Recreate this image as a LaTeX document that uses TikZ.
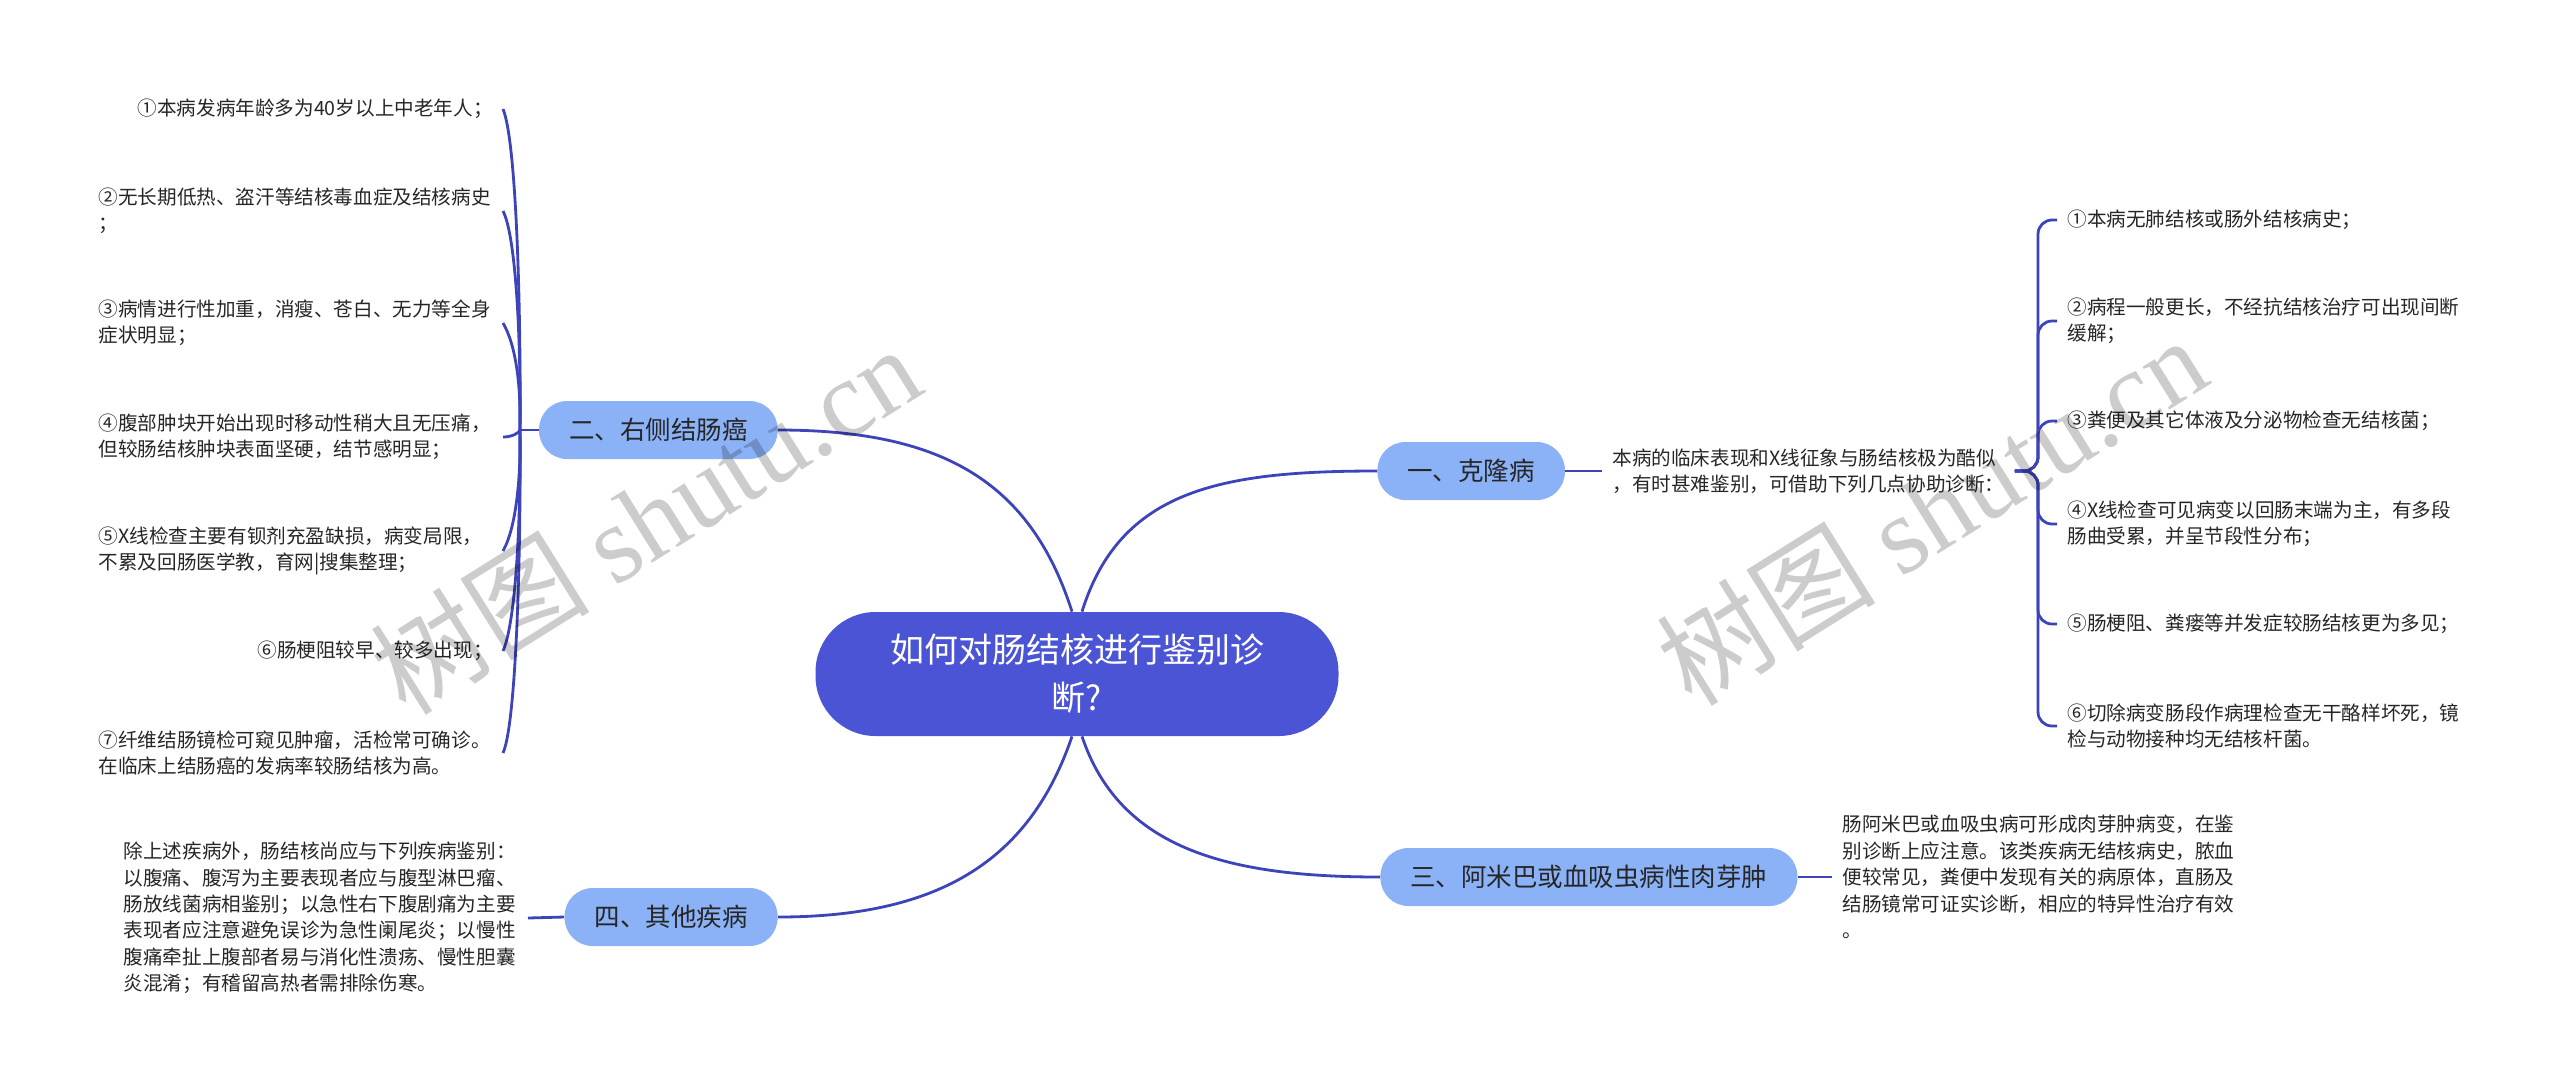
\documentclass[tikz,border=0pt]{standalone}
\usepackage{fontspec}
\setmainfont{Noto Sans CJK SC}
\newfontfamily\wmserif{Liberation Serif}
\newfontfamily\wmcjk{Noto Sans CJK SC}
\definecolor{rootblue}{HTML}{4A54D5}
\definecolor{branchblue}{HTML}{8BB2F6}
\definecolor{lineblue}{HTML}{3D43B8}
\definecolor{textdark}{HTML}{262626}
\tikzset{
  conn/.style={draw=lineblue, line width=1.4pt},
  rootbox/.style={fill=rootblue, text=white, rounded corners=30pt, minimum width=261.5pt, minimum height=62pt, align=center, font=\fontsize{17pt}{24pt}\selectfont},
  branch/.style={fill=branchblue, text=textdark, rounded corners=14pt, minimum height=29pt, inner xsep=15pt, font=\fontsize{12.75pt}{15pt}\selectfont},
  leaf/.style={text=textdark, inner xsep=5pt, inner ysep=2pt, align=left, font=\fontsize{9.8pt}{13.2pt}\selectfont},
  leafw/.style={leaf, text width=197pt},
  wm/.style={text=black, text opacity=0.2, font=\fontsize{55pt}{60pt}\selectfont},
}
\begin{document}
\begin{tikzpicture}[x=0.5pt,y=-0.5pt]
\useasboundingbox (0,0) rectangle (2560,1089);

% root and main branches
\node[rootbox] (root) at (1077,674) {如何对肠结核进行鉴别诊\\断?};
\node[branch, anchor=west] (b1) at (1377,471) {一、克隆病};
\node[branch, anchor=east] (b2) at (778,430) {二、右侧结肠癌};
\node[branch, anchor=west] (b3) at (1380,877) {三、阿米巴或血吸虫病性肉芽肿};
\node[branch, anchor=east] (b4) at (778,917) {四、其他疾病};

\draw[conn] ([xshift=-2.5pt]root.north) .. controls (1030,480) and (940,430) .. (b2.east);
\draw[conn] ([xshift=2.5pt]root.north) .. controls (1120,490) and (1220,471) .. (b1.west);
\draw[conn] ([xshift=-2.5pt]root.south) .. controls (1030,860) and (940,917) .. (b4.east);
\draw[conn] ([xshift=2.5pt]root.south) .. controls (1120,850) and (1230,877) .. (b3.west);

% branch 1: Crohn
\node[leaf, anchor=west] (d1) at (1602,471) {本病的临床表现和X线征象与肠结核极为酷似\\，有时甚难鉴别，可借助下列几点协助诊断：};
\draw[conn] (b1.east) -- (d1.west);
\coordinate (jr) at (2038,472);
\node[leaf, anchor=west] (r1) at (2057,220) {①本病无肺结核或肠外结核病史；};
\node[leafw, anchor=west] (r2) at (2057,321) {②病程一般更长，不经抗结核治疗可出现间断\\缓解；};
\node[leaf, anchor=west] (r3) at (2057,421) {③粪便及其它体液及分泌物检查无结核菌；};
\node[leafw, anchor=west] (r4) at (2057,524) {④X线检查可见病变以回肠末端为主，有多段\\肠曲受累，并呈节段性分布；};
\node[leaf, anchor=west] (r5) at (2057,624) {⑤肠梗阻、粪瘘等并发症较肠结核更为多见；};
\node[leafw, anchor=west] (r6) at (2057,726) {⑥切除病变肠段作病理检查无干酪样坏死，镜\\检与动物接种均无结核杆菌。};
\foreach \n in {r1,r2,r3,r4,r5,r6}
  \draw[conn, rounded corners=7pt] (d1.east) -- (d1.east -| jr) |- (\n.west);

% branch 2: right colon cancer
\coordinate (jl) at (520,430);
\draw[conn] (b2.west) -- (jl);
\node[leaf, anchor=east] (l1) at (503,109) {①本病发病年龄多为40岁以上中老年人；};
\node[leafw, anchor=east] (l2) at (503,211) {②无长期低热、盗汗等结核毒血症及结核病史\\；};
\node[leafw, anchor=east] (l3) at (503,323) {③病情进行性加重，消瘦、苍白、无力等全身\\症状明显；};
\node[leafw, anchor=east] (l4) at (503,437) {④腹部肿块开始出现时移动性稍大且无压痛，\\但较肠结核肿块表面坚硬，结节感明显；};
\node[leafw, anchor=east] (l5) at (503,551) {⑤X线检查主要有钡剂充盈缺损，病变局限，\\不累及回肠医学教，育网|搜集整理；};
\node[leaf, anchor=east] (l6) at (503,651) {⑥肠梗阻较早、较多出现；};
\node[leafw, anchor=east] (l7) at (503,753) {⑦纤维结肠镜检可窥见肿瘤，活检常可确诊。\\在临床上结肠癌的发病率较肠结核为高。};
\draw[conn] (jl) .. controls (521,300) and (516,140) .. (l1.east);
\draw[conn] (jl) .. controls (521,340) and (516,236) .. (l2.east);
\draw[conn] (jl) .. controls (521,386) and (516,345) .. (l3.east);
\draw[conn] (jl) .. controls (519,433) and (512,437) .. (l4.east);
\draw[conn] (jl) .. controls (521,478) and (516,528) .. (l5.east);
\draw[conn] (jl) .. controls (521,517) and (516,622) .. (l6.east);
\draw[conn] (jl) .. controls (521,559) and (516,724) .. (l7.east);

% branch 3
\node[leaf, anchor=west] (d3) at (1832,877) {肠阿米巴或血吸虫病可形成肉芽肿病变，在鉴\\别诊断上应注意。该类疾病无结核病史，脓血\\便较常见，粪便中发现有关的病原体，直肠及\\结肠镜常可证实诊断，相应的特异性治疗有效\\。};
\draw[conn] (b3.east) -- (d3.west);

% branch 4
\node[leafw, anchor=east] (d4) at (528,918) {除上述疾病外，肠结核尚应与下列疾病鉴别：\\以腹痛、腹泻为主要表现者应与腹型淋巴瘤、\\肠放线菌病相鉴别；以急性右下腹剧痛为主要\\表现者应注意避免误诊为急性阑尾炎；以慢性\\腹痛牵扯上腹部者易与消化性溃疡、慢性胆囊\\炎混淆；有稽留高热者需排除伤寒。};
\draw[conn] (b4.west) -- (d4.east);

% watermarks
\node[wm, rotate=32] (wm1) at (645,519) {{\wmcjk 树图} {\wmserif shutu.cn}};
\node[wm, rotate=32] (wm2) at (1931,510) {{\wmcjk 树图} {\wmserif shutu.cn}};
\end{tikzpicture}
\end{document}
